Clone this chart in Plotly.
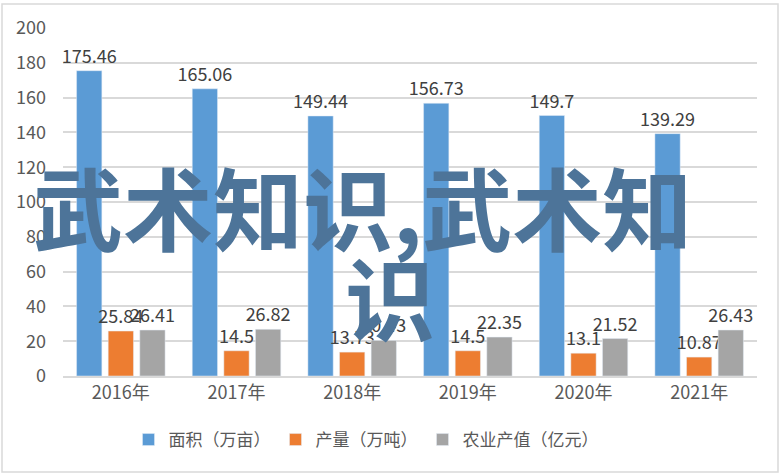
import plotly.graph_objects as go

categories = ["2016年", "2017年", "2018年", "2019年", "2020年", "2021年"]
area = [175.46, 165.06, 149.44, 156.73, 149.7, 139.29]
output = [25.84, 14.5, 13.73, 14.5, 13.1, 10.87]
value = [26.41, 26.82, 20.43, 22.35, 21.52, 26.43]
series_names = ["面积（万亩）", "产量（万吨）", "农业产值（亿元）"]
colors = ["#5B9BD5", "#ED7D31", "#A5A5A5"]
y_ticks = [0, 20, 40, 60, 80, 100, 120, 140, 160, 180, 200]

FONT = "Noto Sans CJK SC, Noto Sans, sans-serif"
W, H = 782, 476
ml, mr, mt, mb = 63, 25, 28, 100
pw, ph = W - ml - mr, H - mt - mb

fig = go.Figure()
for name, vals, c in zip(series_names, [area, output, value], colors):
    fig.add_trace(go.Bar(
        x=categories, y=vals, name=name, marker_color=c,
        text=[str(v) for v in vals], textposition="outside",
        textfont=dict(size=18, color="#404040", family=FONT),
        cliponaxis=False, constraintext="none",
    ))

def px2paper_x(px):
    return (px - ml) / pw

def px2paper_y(py):
    return (H - mb - py) / ph

fig.update_layout(
    width=W, height=H,
    margin=dict(l=ml, r=mr, t=mt, b=mb),
    paper_bgcolor="white", plot_bgcolor="white",
    barmode="group", bargap=0.18, bargroupgap=0.2,
    font=dict(family=FONT, color="#595959", size=18),
    uniformtext=dict(minsize=18, mode="show"),
    xaxis=dict(showgrid=False, showline=True, linecolor="#D9D9D9", linewidth=1.5,
               ticks="", tickfont=dict(size=18, color="#595959")),
    yaxis=dict(range=[0, 200], tickvals=y_ticks, showgrid=True, gridcolor="#D9D9D9",
               gridwidth=1.5, zeroline=False, showline=False, ticks="",
               tickfont=dict(size=18, color="#595959"), ticklabelstandoff=16),
    legend=dict(orientation="h", xanchor="center", yanchor="middle",
                x=px2paper_x(366), y=px2paper_y(440),
                font=dict(size=17, color="#595959"),
                itemwidth=30),
    shapes=[dict(type="rect", xref="paper", yref="paper",
                 x0=px2paper_x(2), x1=px2paper_x(778),
                 y0=px2paper_y(472), y1=px2paper_y(4),
                 line=dict(color="#D9D9D9", width=1.5), layer="below")],
    annotations=[
        dict(text="武术知识,武术知", xref="paper", yref="paper",
             x=px2paper_x(362), y=px2paper_y(205), xanchor="center", yanchor="middle",
             showarrow=False, font=dict(size=90, color="#4D7499", family=FONT, weight="bold")),
        dict(text="识", xref="paper", yref="paper",
             x=px2paper_x(390), y=px2paper_y(295), xanchor="center", yanchor="middle",
             showarrow=False, font=dict(size=90, color="#4D7499", family=FONT, weight="bold")),
    ],
)

fig.write_html("out.html")
